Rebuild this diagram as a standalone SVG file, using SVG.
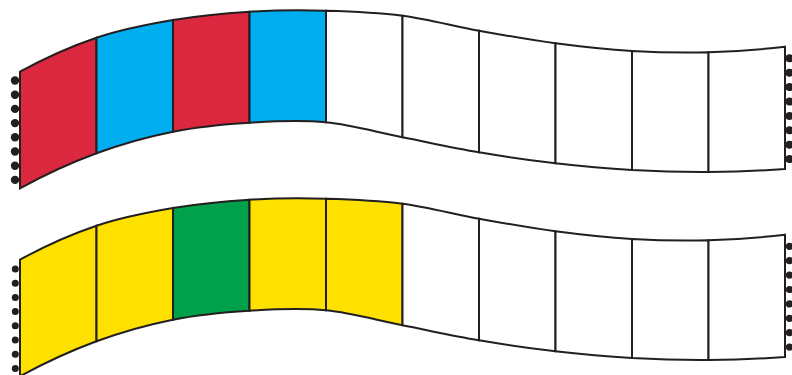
<svg xmlns="http://www.w3.org/2000/svg" xmlns:xlink="http://www.w3.org/1999/xlink" width="792" height="375" viewBox="0 0 792 375">
<style>
.cell{stroke:#231f20;stroke-width:2;stroke-linejoin:miter}
.w{fill:#ffffff}
.r{fill:#dc283f}
.b{fill:#00aeef}
.y{fill:#ffe100}
.g{fill:#00a14b}
.dot{fill:#231f20}
</style>
<defs>
<path id="c0" d="M20,71.7 C45.5,57.65 71,46.32 96.5,37.7 L96.5,153.3 C71,162.73 45.5,174.4 20,188.3 Z"/>
<path id="c1" d="M96.5,37.7 C122,29.08 147.5,24.33 173,20 L173,131.7 C147.5,136.8 122,143.87 96.5,153.3 Z"/>
<path id="c2" d="M173,20 C198.5,15.67 224,13.25 249.5,11.7 L249.5,122.7 C224,124.27 198.5,126.6 173,131.7 Z"/>
<path id="c3" d="M249.5,11.7 C275,10.15 300.5,10.03 326,10.7 L326,122.3 C300.5,119.87 275,121.13 249.5,122.7 Z"/>
<path id="c4" d="M326,10.7 C351.5,11.37 377,12.37 402.5,15.7 L402.5,137.3 C377,132.3 351.5,124.73 326,122.3 Z"/>
<path id="c5" d="M402.5,15.7 C428,19.03 453.5,26.1 479,30.7 L479,152.3 C453.5,147.97 428,142.3 402.5,137.3 Z"/>
<path id="c6" d="M479,30.7 C504.5,35.3 530,39.92 555.5,43.3 L555.5,163.3 C530,160.35 504.5,156.63 479,152.3 Z"/>
<path id="c7" d="M555.5,43.3 C581,46.68 606.5,49.5 632,51 L632,170 C606.5,168.55 581,166.25 555.5,163.3 Z"/>
<path id="c8" d="M632,51 C657.5,52.5 683,53.02 708.5,52.3 L708.5,172 C683,172.17 657.5,171.45 632,170 Z"/>
<path id="c9" d="M708.5,52.3 C734,51.58 759.5,49.72 785,46.7 L785,169 C759.5,170.83 734,171.83 708.5,172 Z"/>
</defs>
<rect width="792" height="375" fill="#ffffff"/>
<g id="strip-top">
<g id="top-dots-left">
<circle class="dot" cx="15" cy="80.5" r="4.2"/><circle class="dot" cx="15" cy="94.7" r="4.2"/><circle class="dot" cx="15" cy="108.9" r="4.2"/><circle class="dot" cx="15" cy="123.1" r="4.2"/><circle class="dot" cx="15" cy="137.3" r="4.2"/><circle class="dot" cx="15" cy="151.5" r="4.2"/><circle class="dot" cx="15" cy="165.7" r="4.2"/><circle class="dot" cx="15" cy="179.9" r="4.2"/>
</g>
<g id="top-dots-right">
<circle class="dot" cx="789.5" cy="58.3" r="4"/><circle class="dot" cx="789.5" cy="72.7" r="4"/><circle class="dot" cx="789.5" cy="87.1" r="4"/><circle class="dot" cx="789.5" cy="101.5" r="4"/><circle class="dot" cx="789.5" cy="115.9" r="4"/><circle class="dot" cx="789.5" cy="130.3" r="4"/><circle class="dot" cx="789.5" cy="144.7" r="4"/><circle class="dot" cx="789.5" cy="159.1" r="4"/>
</g>
<g id="top-cell-1"><use xlink:href="#c0" href="#c0" class="cell r"/></g>
<g id="top-cell-2"><use xlink:href="#c1" href="#c1" class="cell b"/></g>
<g id="top-cell-3"><use xlink:href="#c2" href="#c2" class="cell r"/></g>
<g id="top-cell-4"><use xlink:href="#c3" href="#c3" class="cell b"/></g>
<g id="top-cell-5"><use xlink:href="#c4" href="#c4" class="cell w"/></g>
<g id="top-cell-6"><use xlink:href="#c5" href="#c5" class="cell w"/></g>
<g id="top-cell-7"><use xlink:href="#c6" href="#c6" class="cell w"/></g>
<g id="top-cell-8"><use xlink:href="#c7" href="#c7" class="cell w"/></g>
<g id="top-cell-9"><use xlink:href="#c8" href="#c8" class="cell w"/></g>
<g id="top-cell-10"><use xlink:href="#c9" href="#c9" class="cell w"/></g>
</g>
<g id="strip-bottom" transform="translate(0,188)">
<g id="bottom-dots-left">
<circle class="dot" cx="15.3" cy="81" r="3.5"/><circle class="dot" cx="15.3" cy="95.2" r="3.5"/><circle class="dot" cx="15.3" cy="109.4" r="3.5"/><circle class="dot" cx="15.3" cy="123.6" r="3.5"/><circle class="dot" cx="15.3" cy="137.8" r="3.5"/><circle class="dot" cx="15.3" cy="152" r="3.5"/><circle class="dot" cx="15.3" cy="166.2" r="3.5"/><circle class="dot" cx="15.3" cy="180.4" r="3.5"/>
</g>
<g id="bottom-dots-right">
<circle class="dot" cx="789.5" cy="58.3" r="3.6"/><circle class="dot" cx="789.5" cy="72.7" r="3.6"/><circle class="dot" cx="789.5" cy="87.1" r="3.6"/><circle class="dot" cx="789.5" cy="101.5" r="3.6"/><circle class="dot" cx="789.5" cy="115.9" r="3.6"/><circle class="dot" cx="789.5" cy="130.3" r="3.6"/><circle class="dot" cx="789.5" cy="144.7" r="3.6"/><circle class="dot" cx="789.5" cy="159.1" r="3.6"/>
</g>
<g id="bottom-cell-1"><use xlink:href="#c0" href="#c0" class="cell y"/></g>
<g id="bottom-cell-2"><use xlink:href="#c1" href="#c1" class="cell y"/></g>
<g id="bottom-cell-3"><use xlink:href="#c2" href="#c2" class="cell g"/></g>
<g id="bottom-cell-4"><use xlink:href="#c3" href="#c3" class="cell y"/></g>
<g id="bottom-cell-5"><use xlink:href="#c4" href="#c4" class="cell y"/></g>
<g id="bottom-cell-6"><use xlink:href="#c5" href="#c5" class="cell w"/></g>
<g id="bottom-cell-7"><use xlink:href="#c6" href="#c6" class="cell w"/></g>
<g id="bottom-cell-8"><use xlink:href="#c7" href="#c7" class="cell w"/></g>
<g id="bottom-cell-9"><use xlink:href="#c8" href="#c8" class="cell w"/></g>
<g id="bottom-cell-10"><use xlink:href="#c9" href="#c9" class="cell w"/></g>
</g>
</svg>
